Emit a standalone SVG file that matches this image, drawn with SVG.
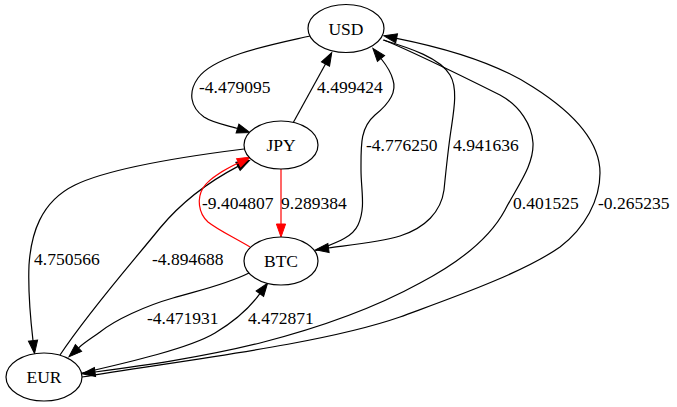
<svg xmlns="http://www.w3.org/2000/svg" width="677" height="407" viewBox="0 0 677 407" font-family="'Liberation Serif', serif">
<style>
.node ellipse{fill:#fff;stroke:#000;stroke-width:1.2}
.node text{font-family:'Liberation Serif',serif;font-size:17.5px;text-anchor:middle;fill:#000}
.edge path{fill:none;stroke:#000;stroke-width:1.2}
.edge path.red{stroke:#ff0000}
.lbl{font-family:'Liberation Serif',serif;font-size:17.5px;fill:#000}
</style>
<defs>
<marker id="ah" markerUnits="userSpaceOnUse" markerWidth="16" markerHeight="12" refX="0" refY="0" viewBox="-1 -6 16 12" orient="auto" overflow="visible">
<path d="M0,-4.6 L13,0 L0,4.6 z" fill="#000" stroke="#000" stroke-width="1"/>
</marker>
<marker id="ahr" markerUnits="userSpaceOnUse" markerWidth="16" markerHeight="12" refX="0" refY="0" viewBox="-1 -6 16 12" orient="auto" overflow="visible">
<path d="M0,-4.6 L13,0 L0,4.6 z" fill="#ff0000" stroke="#ff0000" stroke-width="1"/>
</marker>
</defs>
<rect width="677" height="407" fill="#fff"/>
<g id="edges" class="edge">
<path d="M310,36 C275,44 215,55 198,78 C188,92 190,107 204,117 C213,123 225,124.5 237.5,128.5" marker-end="url(#ah)"/>
<path d="M293,123 L325.5,64" marker-end="url(#ah)"/>
<path d="M315,251 C335,243 352,238 358,225 C366,208 361,190 361,170 C361,145 360,128 375,115 C390,103 397,92 393,80 C391,72 387,66 381,58.5" marker-end="url(#ah)"/>
<path d="M383,40 C410,48 440,58 450,75 C458,88 454,110 451,130 C448,150 446,170 444,190 C441,212 425,228 400,236 C380,242 350,245 328.5,248" marker-end="url(#ah)"/>
<path d="M384,40 C420,55 470,80 500,95 C520,106 532,125 533,143 C534,165 518,185 505,210 C490,238 460,262 420,283 C380,305 330,325 260,343 C200,358 140,366 95,372" marker-end="url(#ah)"/>
<path d="M82,377 C170,362 320,345 400,317 C440,302 520,275 560,247 C585,228 600,200 600,173 C600,150 585,120 533,87 C495,62 440,47 396.6,38.3" marker-end="url(#ah)"/>
<path d="M244,149 C180,157 110,168 75,185 C40,202 31,235 29,265 C28,290 30,315 33,340.6" marker-end="url(#ah)"/>
<path d="M60,355 C90,310 130,265 160,228 C185,198 212,180 238,166.4" marker-end="url(#ah)"/>
<path class="red" d="M281,169 L281,224" marker-end="url(#ahr)"/>
<path class="red" d="M250,247 C235,238 218,230 208,222 C198,213 197,198 203,188 C210,177 227,168.5 238.6,162.8" marker-end="url(#ahr)"/>
<path d="M249,273 C225,285 200,290 173,298 C145,306 115,320 100,332 C92,338 85,342 78.5,348" marker-end="url(#ah)"/>
<path d="M82,373 C130,362 190,348 215,333 C235,321 248,310 259.9,293.7" marker-end="url(#ah)"/>
<text class="lbl" font-family="'Liberation Serif', serif" x="199" y="93">-4.479095</text>
<text class="lbl" font-family="'Liberation Serif', serif" x="317" y="93">4.499424</text>
<text class="lbl" font-family="'Liberation Serif', serif" x="366" y="151">-4.776250</text>
<text class="lbl" font-family="'Liberation Serif', serif" x="453" y="151">4.941636</text>
<text class="lbl" font-family="'Liberation Serif', serif" x="513" y="209">0.401525</text>
<text class="lbl" font-family="'Liberation Serif', serif" x="598" y="209">-0.265235</text>
<text class="lbl" font-family="'Liberation Serif', serif" x="34" y="265">4.750566</text>
<text class="lbl" font-family="'Liberation Serif', serif" x="152" y="265">-4.894688</text>
<text class="lbl" font-family="'Liberation Serif', serif" x="202" y="209">-9.404807</text>
<text class="lbl" font-family="'Liberation Serif', serif" x="281" y="209">9.289384</text>
<text class="lbl" font-family="'Liberation Serif', serif" x="147" y="324">-4.471931</text>
<text class="lbl" font-family="'Liberation Serif', serif" x="248" y="324">4.472871</text>
</g>
<g id="USD" class="node"><ellipse cx="346" cy="28.5" rx="38" ry="24"/><text font-family="'Liberation Serif', serif" x="346" y="34.5">USD</text></g>
<g id="JPY" class="node"><ellipse cx="281" cy="145" rx="37" ry="24"/><text font-family="'Liberation Serif', serif" x="281" y="151">JPY</text></g>
<g id="BTC" class="node"><ellipse cx="281" cy="261" rx="37" ry="24"/><text font-family="'Liberation Serif', serif" x="281" y="267">BTC</text></g>
<g id="EUR" class="node"><ellipse cx="44" cy="377" rx="38" ry="24"/><text font-family="'Liberation Serif', serif" x="44" y="383">EUR</text></g>
</svg>
